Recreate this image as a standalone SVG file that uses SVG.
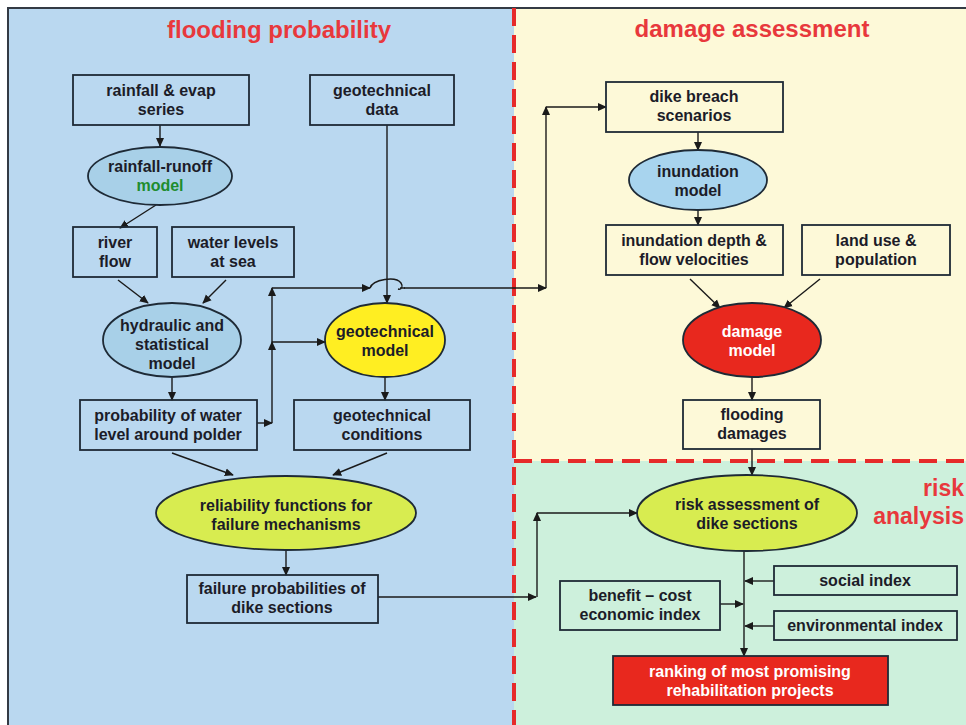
<svg xmlns="http://www.w3.org/2000/svg" width="966" height="725" viewBox="0 0 966 725">
<defs>
<marker id="ah" viewBox="0 0 10 10" refX="9" refY="5" markerWidth="9" markerHeight="9" markerUnits="userSpaceOnUse" orient="auto">
<path d="M0,0.5 L10,5 L0,9.5 z" fill="#1a1a1a"/>
</marker>
<style>
.t{font-family:"Liberation Sans",Arial,sans-serif;font-weight:bold;font-size:16px;fill:#1c1c28;text-anchor:middle}
.w{fill:#ffffff}
.g{fill:#1e8c2e}
.title{font-family:"Liberation Sans",Arial,sans-serif;font-weight:bold;font-size:24px;fill:#e8383c;text-anchor:middle}
.box{fill:none;stroke:#1e2a36;stroke-width:1.8}
.ell{stroke:#1e2a36;stroke-width:1.8}
.c{fill:none;stroke:#1a1a1a;stroke-width:1.4}
.a{marker-end:url(#ah)}
</style>
</defs>
<g id="background">
<rect x="8" y="8" width="506" height="717" fill="#bad8f0"/>
<rect x="514" y="8" width="452" height="453" fill="#fdf9d8"/>
<rect x="514" y="461" width="452" height="264" fill="#cdf0dc"/>
<path d="M8,725 V8 H966" fill="none" stroke="#333a44" stroke-width="2"/>
<path d="M514,8 V725 M514,461 H966" fill="none" stroke="#e62a2a" stroke-width="4" stroke-dasharray="18,9"/>
<text class="title" x="279" y="38">flooding probability</text>
<text class="title" x="752" y="37">damage assessment</text>
<text class="title" x="964" y="496" style="text-anchor:end;font-size:23px">risk</text>
<text class="title" x="964" y="524" style="text-anchor:end;font-size:23px">analysis</text>
</g>
<g id="connectors">
<path class="c a" d="M160,125 V146"/>
<path class="c a" d="M156,205 L120,228"/>
<path class="c a" d="M118,280 L148,303"/>
<path class="c a" d="M226,280 L203,303"/>
<path class="c a" d="M172,378 V400"/>
<path class="c a" d="M257,423 H272"/>
<path class="c a" d="M272,423 V342"/>
<path class="c a" d="M272,342 V288"/>
<path class="c a" d="M272,342 H325"/>
<path class="c a" d="M272,288 H370"/>
<path class="c" d="M370,288 C373,279 396,276 401,283 C403,286 402,290 398,289 M400,288 H405"/>
<path class="c a" d="M404,288 H546"/>
<path class="c a" d="M546,288 V107"/>
<path class="c a" d="M546,107 H606"/>
<path class="c a" d="M387,125 V303"/>
<path class="c a" d="M385,377 V400"/>
<path class="c a" d="M172,453 L233,475"/>
<path class="c a" d="M387,453 L333,475"/>
<path class="c a" d="M286,551 V575"/>
<path class="c a" d="M378,597 H536"/>
<path class="c a" d="M537,597 V513"/>
<path class="c a" d="M537,513 H637"/>
<path class="c a" d="M698,132 V150"/>
<path class="c a" d="M698,211 V225"/>
<path class="c a" d="M690,279 L720,308"/>
<path class="c a" d="M820,279 L784,308"/>
<path class="c a" d="M752,377 V400"/>
<path class="c a" d="M752,449 V475"/>
<path class="c a" d="M744,551 V656"/>
<path class="c a" d="M774,581 H745"/>
<path class="c a" d="M720,604 H743"/>
<path class="c a" d="M774,626 H745"/>
</g>
<g id="rainfall_series">
<rect class="box" x="73" y="75" width="176" height="50"/>
<text class="t" x="161" y="96">rainfall &amp; evap</text>
<text class="t" x="161" y="115">series</text>
</g>
<g id="geotechnical_data">
<rect class="box" x="310" y="75" width="144" height="50"/>
<text class="t" x="382" y="96">geotechnical</text>
<text class="t" x="382" y="115">data</text>
</g>
<g id="rainfall_runoff_model">
<ellipse class="ell" cx="160" cy="176" rx="72" ry="29" fill="#a8d0e8"/>
<text class="t" x="160" y="172">rainfall-runoff</text>
<text class="t g" x="160" y="191">model</text>
</g>
<g id="river_flow">
<rect class="box" x="73" y="227" width="84" height="50"/>
<text class="t" x="115" y="248">river</text>
<text class="t" x="115" y="267">flow</text>
</g>
<g id="water_levels">
<rect class="box" x="172" y="227" width="122" height="50"/>
<text class="t" x="233" y="248">water levels</text>
<text class="t" x="233" y="267">at sea</text>
</g>
<g id="hydraulic_model">
<ellipse class="ell" cx="172" cy="340" rx="69" ry="37" fill="#a8d0e8"/>
<text class="t" x="172" y="331">hydraulic and</text>
<text class="t" x="172" y="350">statistical</text>
<text class="t" x="172" y="369">model</text>
</g>
<g id="probability_water_level">
<rect class="box" x="80" y="400" width="177" height="50"/>
<text class="t" x="168" y="421">probability of water</text>
<text class="t" x="168" y="440">level around polder</text>
</g>
<g id="geotechnical_model">
<ellipse class="ell" cx="385" cy="340" rx="60" ry="37" fill="#ffee22"/>
<text class="t" x="385" y="337">geotechnical</text>
<text class="t" x="385" y="356">model</text>
</g>
<g id="geotechnical_conditions">
<rect class="box" x="294" y="400" width="176" height="50"/>
<text class="t" x="382" y="421">geotechnical</text>
<text class="t" x="382" y="440">conditions</text>
</g>
<g id="reliability_functions">
<ellipse class="ell" cx="286" cy="513" rx="130" ry="37" fill="#d8ec50"/>
<text class="t" x="286" y="511">reliability functions for</text>
<text class="t" x="286" y="530">failure mechanisms</text>
</g>
<g id="failure_probabilities">
<rect class="box" x="187" y="575" width="191" height="48"/>
<text class="t" x="282" y="594">failure probabilities of</text>
<text class="t" x="282" y="613">dike sections</text>
</g>
<g id="dike_breach_scenarios">
<rect class="box" x="606" y="82" width="177" height="50"/>
<text class="t" x="694" y="102">dike breach</text>
<text class="t" x="694" y="121">scenarios</text>
</g>
<g id="inundation_model">
<ellipse class="ell" cx="698" cy="180" rx="69" ry="30" fill="#a8d4ee"/>
<text class="t" x="698" y="177">inundation</text>
<text class="t" x="698" y="196">model</text>
</g>
<g id="inundation_depth">
<rect class="box" x="606" y="225" width="177" height="50"/>
<text class="t" x="694" y="246">inundation depth &amp;</text>
<text class="t" x="694" y="265">flow velocities</text>
</g>
<g id="land_use">
<rect class="box" x="802" y="225" width="148" height="50"/>
<text class="t" x="876" y="246">land use &amp;</text>
<text class="t" x="876" y="265">population</text>
</g>
<g id="damage_model">
<ellipse class="ell" cx="752" cy="340" rx="69" ry="37" fill="#e8281e"/>
<text class="t w" x="752" y="337">damage</text>
<text class="t w" x="752" y="356">model</text>
</g>
<g id="flooding_damages">
<rect class="box" x="683" y="400" width="137" height="49"/>
<text class="t" x="752" y="420">flooding</text>
<text class="t" x="752" y="439">damages</text>
</g>
<g id="risk_assessment">
<ellipse class="ell" cx="747" cy="513" rx="110" ry="38" fill="#d8ec50"/>
<text class="t" x="747" y="510">risk assessment of</text>
<text class="t" x="747" y="529">dike sections</text>
</g>
<g id="social_index">
<rect class="box" x="774" y="566" width="183" height="29"/>
<text class="t" x="865" y="586">social index</text>
</g>
<g id="benefit_cost">
<rect class="box" x="560" y="581" width="160" height="49"/>
<text class="t" x="640" y="601">benefit – cost</text>
<text class="t" x="640" y="620">economic index</text>
</g>
<g id="environmental_index">
<rect class="box" x="774" y="611" width="183" height="29"/>
<text class="t" x="865" y="631">environmental index</text>
</g>
<g id="ranking">
<rect x="613" y="656" width="275" height="49" fill="#e8281e" stroke="#1e2a36" stroke-width="1.8"/>
<text class="t w" x="750" y="677">ranking of most promising</text>
<text class="t w" x="750" y="696">rehabilitation projects</text>
</g>
</svg>
